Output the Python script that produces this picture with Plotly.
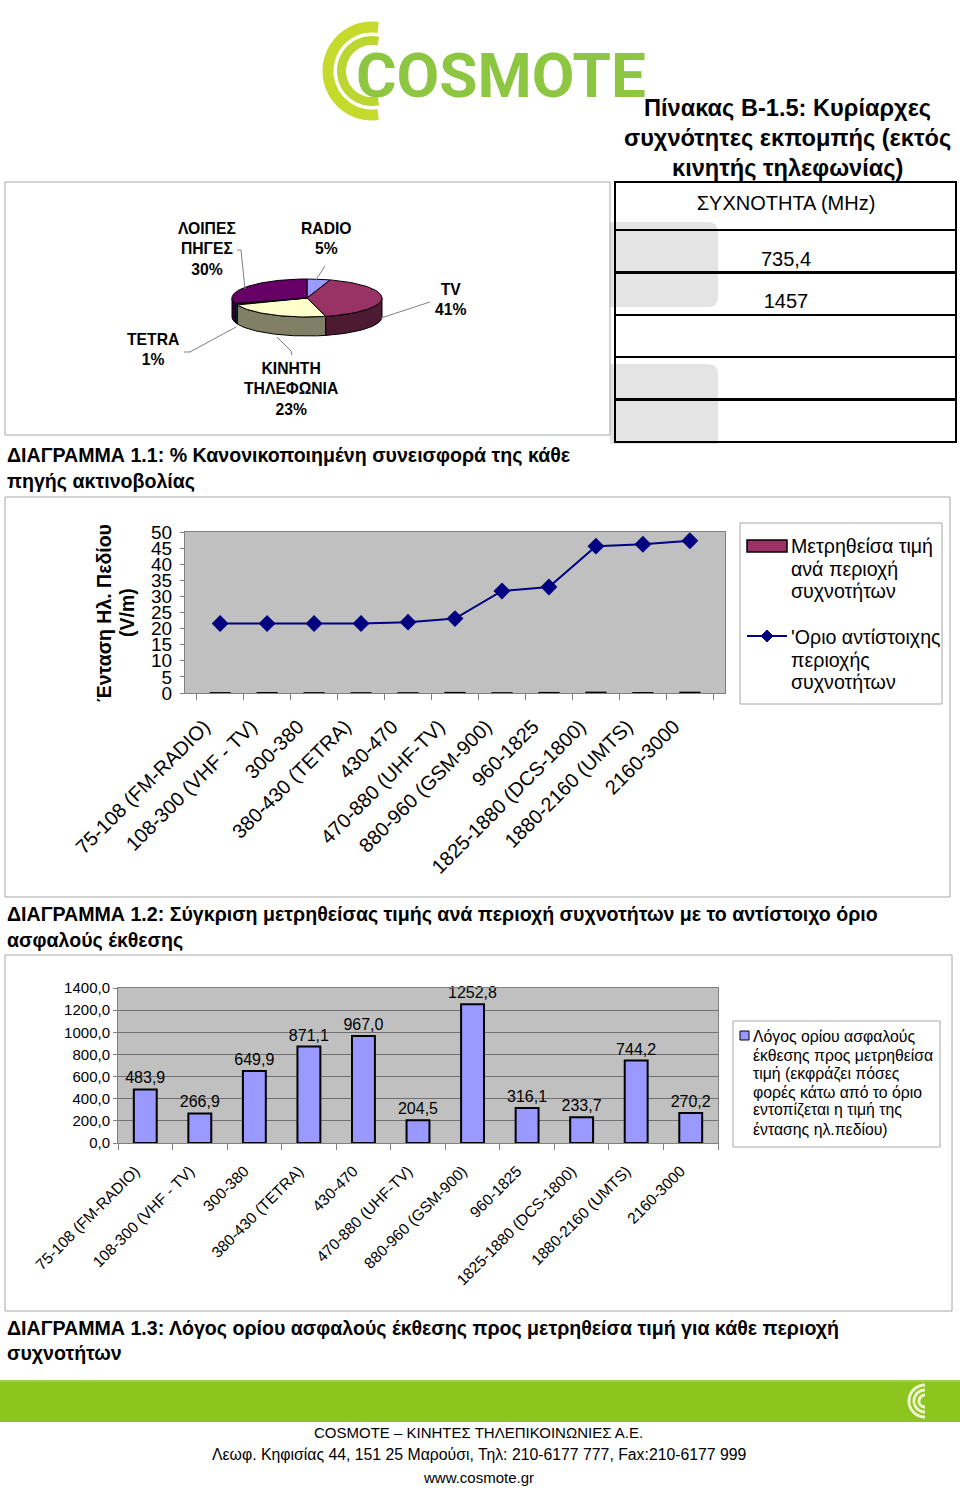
import numpy as np
import plotly.graph_objects as go

W, H = 960, 1489
FONT = "Liberation Sans, Arial, sans-serif"

# ---------------- data ----------------
pie_names = ["RADIO", "TV", "ΚΙΝΗΤΗ<br>ΤΗΛΕΦΩΝΙΑ", "TETRA", "ΛΟΙΠΕΣ<br>ΠΗΓΕΣ"]
pie_values = [5, 41, 23, 1, 30]
pie_top_colors = ["#9999ff", "#993366", "#ffffcc", "#008080", "#660066"]
pie_side_colors = ["#4d4d80", "#4d1a33", "#808066", "#004040", "#330033"]

table_header = ["ΣΥΧΝΟΤΗΤΑ (MHz)"]
table_values = ["735,4", "1457", "", "", ""]

bands = ["75-108 (FM-RADIO)", "108-300 (VHF - TV)", "300-380", "380-430 (TETRA)",
         "430-470", "470-880 (UHF-TV)", "880-960 (GSM-900)", "960-1825",
         "1825-1880 (DCS-1800)", "1880-2160 (UMTS)", "2160-3000"]
limit_vm = [21.6, 21.6, 21.6, 21.6, 22.0, 23.1, 31.7, 32.9, 45.6, 46.2, 47.3]
measured_vm = [0.045, 0.081, 0.033, 0.025, 0.023, 0.113, 0.025, 0.104, 0.195, 0.062, 0.175]
ratio = [483.9, 266.9, 649.9, 871.1, 967.0, 204.5, 1252.8, 316.1, 233.7, 744.2, 270.2]


def X(px):
    return px / W


def Y(py):
    return 1 - py / H


fig = go.Figure()

# ---------------- line chart (Diagram 1.2) ----------------
fig.add_trace(go.Bar(x=bands, y=measured_vm, width=0.42,
                     marker=dict(color="#993366", line=dict(color="black", width=1.5)),
                     xaxis="x", yaxis="y", hoverinfo="skip"))
fig.add_trace(go.Scatter(x=bands, y=limit_vm, mode="lines+markers",
                         line=dict(color="#000080", width=2),
                         marker=dict(symbol="diamond", size=13, color="#000080"),
                         xaxis="x", yaxis="y"))

# ---------------- bar chart (Diagram 1.3) ----------------
fig.add_trace(go.Bar(x=bands, y=ratio, width=0.42,
                     marker=dict(color="#9999ff", line=dict(color="black", width=2)),
                     texttemplate="%{y:.1f}", textposition="outside", constraintext="none",
                     textfont=dict(size=16, color="black", family=FONT),
                     cliponaxis=False, xaxis="x2", yaxis="y2"))

# ---------------- 3D-looking pie (Diagram 1.1) ----------------
total = float(sum(pie_values))
cx, cy, rx, ry, depth = 307, 298, 75, 19, 19
angles = np.concatenate([[0.0], np.cumsum(pie_values) / total * 360.0])
for i in range(len(pie_values)):
    a0, a1 = angles[i], angles[i + 1]
    s0, s1 = max(a0, 90.0), min(a1, 270.0)
    if s1 > s0:
        t = np.radians(np.linspace(s0, s1, 60))
        xs = cx + rx * np.sin(t)
        ys = cy - ry * np.cos(t)
        fig.add_trace(go.Scatter(x=np.concatenate([xs, xs[::-1], xs[:1]]),
                                 y=np.concatenate([ys, ys[::-1] + depth, ys[:1]]),
                                 mode="lines", fill="toself", fillcolor=pie_side_colors[i],
                                 line=dict(color="black", width=1), hoverinfo="skip",
                                 xaxis="x3", yaxis="y3"))
for i in range(len(pie_values)):
    a0, a1 = angles[i], angles[i + 1]
    t = np.radians(np.linspace(a0, a1, 80))
    xs = np.concatenate([[cx], cx + rx * np.sin(t), [cx]])
    ys = np.concatenate([[cy], cy - ry * np.cos(t), [cy]])
    fig.add_trace(go.Scatter(x=xs, y=ys, mode="lines", fill="toself",
                             fillcolor=pie_top_colors[i],
                             line=dict(color="black", width=1), hoverinfo="skip",
                             xaxis="x3", yaxis="y3"))

# ---------------- table (grid by go.Table, text on a hidden axis) ----------------
TB_X0, TB_X1, TB_Y0, TB_Y1 = 615, 957, 182, 444
HEAD_H, ROW_H = 48, 42.4
fig.add_trace(go.Table(
    domain=dict(x=[X(TB_X0), X(TB_X1)], y=[Y(TB_Y1), Y(TB_Y0)]),
    header=dict(values=[""], height=HEAD_H,
                line=dict(color="black", width=2.5), fill=dict(color="rgba(0,0,0,0)")),
    cells=dict(values=[[""] * len(table_values)], height=ROW_H,
               line=dict(color="black", width=2.5), fill=dict(color="rgba(0,0,0,0)")),
))
tb_text = table_header + table_values
tb_y = [TB_Y0 + HEAD_H / 2 - 1] + [TB_Y0 + HEAD_H + ROW_H * i + 30.5 for i in range(len(table_values))]
fig.add_trace(go.Scatter(x=[(TB_X0 + TB_X1) / 2] * len(tb_text), y=tb_y, text=tb_text,
                         mode="text", textposition="middle center",
                         textfont=dict(size=20, color="black", family=FONT),
                         hoverinfo="skip", xaxis="x4", yaxis="y4"))

shapes = []
annotations = []


def rect(x0, y0, x1, y1, line="#a6a6a6", fill=None, width=1, layer="above"):
    shapes.append(dict(type="rect", xref="paper", yref="paper",
                       x0=X(x0), x1=X(x1), y0=Y(y1), y1=Y(y0),
                       line=dict(color=line, width=width) if line else dict(width=0),
                       fillcolor=fill, layer=layer))


def polyline(pts, color="#808080", width=1):
    d = "M " + " L ".join(f"{X(px):.5f},{Y(py):.5f}" for px, py in pts)
    shapes.append(dict(type="path", xref="paper", yref="paper", path=d,
                       line=dict(color=color, width=width)))


def arc(cxp, cyp, r, a0, a1, color, width):
    t = np.radians(np.linspace(a0, a1, 60))
    polyline(list(zip(cxp + r * np.cos(t), cyp - r * np.sin(t))), color, width)


def txt(s, x, y, size, bold=False, anchor="left", color="black", family=FONT, valign="middle", angle=0):
    annotations.append(dict(text=f"<b>{s}</b>" if bold else s, x=X(x), y=Y(y),
                            xref="paper", yref="paper", showarrow=False, textangle=angle,
                            xanchor=anchor, yanchor=valign, align=anchor if anchor != "center" else "center",
                            font=dict(size=size, color=color, family=family)))


# faint watermark patches behind table
shapes.append(dict(type="path", xref="paper", yref="paper", layer="below",
                   path=f"M {X(610)},{Y(222)} L {X(708)},{Y(222)} Q {X(718)},{Y(222)} {X(718)},{Y(232)} "
                        f"L {X(718)},{Y(297)} Q {X(718)},{Y(307)} {X(708)},{Y(307)} L {X(610)},{Y(307)} Z",
                   fillcolor="#e4e4e4", line=dict(width=0)))
shapes.append(dict(type="path", xref="paper", yref="paper", layer="below",
                   path=f"M {X(610)},{Y(364)} L {X(708)},{Y(364)} Q {X(718)},{Y(364)} {X(718)},{Y(374)} "
                        f"L {X(718)},{Y(444)} L {X(610)},{Y(444)} Z",
                   fillcolor="#e4e4e4", line=dict(width=0)))

# logo
arc(372, 71, 44, 82, 278, "#c6da2b", 11)
arc(372, 71, 30.5, 78, 282, "#bcd631", 9)
txt("COSMOTE", 354, 75, 62, bold=True, color="#8dc641", family="Roboto, " + FONT)

# title of table
txt("Πίνακας Β-1.5: Κυρίαρχες", 787, 108, 23.6, bold=True, anchor="center")
txt("συχνότητες εκπομπής (εκτός", 787, 138, 23.6, bold=True, anchor="center")
txt("κινητής τηλεφωνίας)", 787, 168, 23.6, bold=True, anchor="center")

# panel boxes
rect(5, 182, 610, 435)
rect(5, 497, 950, 897)
rect(5, 955, 952, 1311)

# plot backgrounds
for xr, yr in (("x domain", "y domain"), ("x2 domain", "y2 domain")):
    shapes.append(dict(type="rect", xref=xr, yref=yr, x0=0, x1=1, y0=0, y1=1,
                       fillcolor="#c0c0c0", line=dict(width=0), layer="below"))

# pie labels + leader lines
pie_label_pos = [(326, 238), (450, 300), (291, 389), (153, 350), (207, 249)]
for name, v, (lx, ly) in zip(pie_names, pie_values, pie_label_pos):
    txt(f"{name}<br>{v}%", lx, ly, 15.7, bold=True, anchor="center")
polyline([(237, 250), (241, 250), (245, 289)])
polyline([(325, 266), (316, 280)])
polyline([(430, 302), (381, 318)])
polyline([(184, 352), (190, 352), (236, 327)])
polyline([(292, 355), (291, 351), (277, 337)])

# captions
txt("ΔΙΑΓΡΑΜΜΑ 1.1: % Κανονικοποιημένη συνεισφορά της κάθε", 5, 455, 19.6, bold=True)
txt("πηγής ακτινοβολίας", 5, 481, 19.6, bold=True)
txt("ΔΙΑΓΡΑΜΜΑ 1.2: Σύγκριση μετρηθείσας τιμής ανά περιοχή συχνοτήτων με το αντίστοιχο όριο", 5, 914, 19.6, bold=True)
txt("ασφαλούς έκθεσης", 5, 940, 19.6, bold=True)
txt("ΔΙΑΓΡΑΜΜΑ 1.3: Λόγος ορίου ασφαλούς έκθεσης προς μετρηθείσα τιμή για κάθε περιοχή", 5, 1328, 19.6, bold=True)
txt("συχνοτήτων", 5, 1353, 19.6, bold=True)

# y-axis title of line chart (two rotated lines)
txt("Ένταση Ηλ. Πεδίου", 104, 613, 19.5, bold=True, anchor="center", angle=-90)
txt("(V/m)", 127, 613, 19.5, bold=True, anchor="center", angle=-90)

# legend of line chart
rect(740, 523, 942, 704)
rect(747, 540, 787, 552, line="black", fill="#993366", width=1.5)
for s, yy in (("Μετρηθείσα τιμή", 546), ("ανά περιοχή", 569), ("συχνοτήτων", 591)):
    txt(s, 789, yy, 19.6)
polyline([(747, 636), (787, 636)], "#000080", 2)
shapes.append(dict(type="path", xref="paper", yref="paper",
                   path=f"M {X(767)},{Y(630)} L {X(773)},{Y(636)} L {X(767)},{Y(642)} L {X(761)},{Y(636)} Z",
                   fillcolor="#000080", line=dict(color="#000080", width=1)))
for s, yy in (("'Οριο αντίστοιχης", 637), ("περιοχής", 660), ("συχνοτήτων", 682)):
    txt(s, 789, yy, 19.6)

# legend of bar chart
rect(733, 1021, 940, 1147)
rect(740, 1031, 749, 1040, line="black", fill="#9999ff", width=1)
for s, yy in (("Λόγος ορίου ασφαλούς", 1036), ("έκθεσης προς μετρηθείσα", 1055),
              ("τιμή (εκφράζει πόσες", 1074), ("φορές κάτω από το όριο", 1092),
              ("εντοπίζεται η τιμή της", 1110), ("έντασης ηλ.πεδίου)", 1129)):
    txt(s, 751, yy, 15.8)

# footer
rect(0, 1380, 960, 1422, line=None, fill="#8cc51e")
polyline([(0, 1381), (960, 1381)], "#b5dc6a", 1)
for r in (16, 11, 6):
    arc(925, 1401, r, 90, 270, "#eef5d0", 3)
txt("COSMOTE – ΚΙΝΗΤΕΣ ΤΗΛΕΠΙΚΟΙΝΩΝΙΕΣ Α.Ε.", 478, 1432, 15, anchor="center")
txt("Λεωφ. Κηφισίας 44, 151 25 Μαρούσι, Τηλ: 210-6177 777, Fax:210-6177 999", 479, 1454, 15.8, anchor="center")
txt("www.cosmote.gr", 478, 1477, 15, anchor="center")

axis_common = dict(showline=True, linecolor="#808080", mirror=True, showgrid=False,
                   zeroline=False, automargin=False)
hidden = dict(visible=False, automargin=False, fixedrange=True)
fig.update_layout(
    width=W, height=H, margin=dict(l=0, r=0, t=0, b=0, autoexpand=False),
    paper_bgcolor="white", plot_bgcolor="rgba(0,0,0,0)",
    showlegend=False, separators=",.",
    font=dict(family=FONT, color="black"),
    xaxis=dict(domain=[X(185), X(725)], anchor="y", type="category", tickangle=-45,
               tickfont=dict(size=20), ticks="outside", tickson="boundaries", ticklen=6,
               tickcolor="#808080", ticklabelstandoff=13, ticklabelshift=-16, **axis_common),
    yaxis=dict(domain=[Y(693), Y(532)], anchor="x", range=[0, 50], dtick=5,
               tickfont=dict(size=19), ticks="outside", ticklen=4, tickcolor="#808080",
               ticklabelstandoff=4, **axis_common),
    xaxis2=dict(domain=[X(118), X(718)], anchor="y2", type="category", tickangle=-45,
                tickfont=dict(size=15.5), ticks="outside", tickson="boundaries", ticklen=6,
                tickcolor="#808080", ticklabelstandoff=12, ticklabelshift=-10, **axis_common),
    yaxis2=dict(domain=[Y(1143), Y(988)], anchor="x2", range=[0, 1400], dtick=200,
                tickformat=".1f", tickfont=dict(size=15), ticks="outside", ticklen=4,
                tickcolor="#808080", showline=True, linecolor="#808080", mirror=True,
                showgrid=True, gridcolor="#707070", gridwidth=1, zeroline=False,
                automargin=False),
    xaxis3=dict(domain=[X(5), X(610)], anchor="y3", range=[5, 610], **hidden),
    yaxis3=dict(domain=[Y(435), Y(182)], anchor="x3", range=[435, 182], **hidden),
    xaxis4=dict(domain=[X(TB_X0), X(TB_X1)], anchor="y4", range=[TB_X0, TB_X1], **hidden),
    yaxis4=dict(domain=[Y(TB_Y1), Y(TB_Y0)], anchor="x4", range=[TB_Y1, TB_Y0], **hidden),
    shapes=shapes, annotations=annotations,
)

fig.write_html("out.html", config={"displayModeBar": False},
               post_script="document.body.style.margin='0';document.body.style.overflow='hidden';")
